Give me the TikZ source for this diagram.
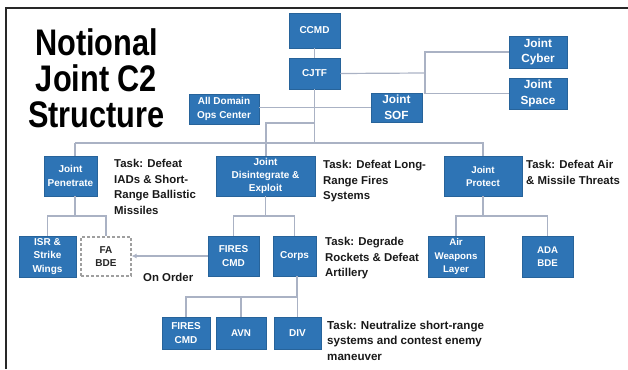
\documentclass[tikz,border=0pt]{standalone}
\usepackage{fontspec}
\setmainfont{Liberation Sans}
\newfontfamily\titlefont[FakeStretch=0.83]{Liberation Sans}
\usetikzlibrary{arrows.meta}
\definecolor{boxblue}{RGB}{46,116,181}
\definecolor{linkgray}{RGB}{170,178,196}
\definecolor{framegray}{RGB}{40,40,40}
\tikzset{
  unit/.style={fill=boxblue, draw=boxblue!85!black, line width=0.5pt, text=white,
    font=\bfseries\fontsize{10}{13.4}\selectfont, align=center, inner sep=0pt},
  bigunit/.style={unit, font=\bfseries\fontsize{11.8}{15.6}\selectfont},
  orderunit/.style={unit, fill=white, draw=gray!75, line width=1.2pt,
    dash pattern=on 3pt off 2pt, text=black!85},
  link/.style={draw=linkgray, line width=1.2pt},
  task/.style={font=\bfseries\fontsize{11.4}{15.6}\selectfont, text=black!90,
    align=left, anchor=north west, inner sep=0pt},
}
\begin{document}
\begin{tikzpicture}[x=1pt,y=-1pt]
\useasboundingbox (0,0) rectangle (628,369);

% page frame
\draw[framegray, line width=2pt] (6,369) -- (6,8.5) -- (628,8.5);

% title
\node[font=\titlefont\bfseries\fontsize{37}{36}\selectfont, align=center,
      anchor=north, inner sep=0pt] (title) at (96.5,28) {Notional\\Joint C2\\Structure};

% command level
\node[unit, minimum width=51pt, minimum height=35pt] (ccmd) at (314.5,30.5) {CCMD};
\node[unit, minimum width=51pt, minimum height=31pt] (cjtf) at (314.5,73.5) {CJTF};
\node[bigunit, minimum width=58pt, minimum height=32pt] (cyber) at (538,52) {Joint\\Cyber};
\node[bigunit, minimum width=58pt, minimum height=31pt] (space) at (538,93.5) {Joint\\Space};
\node[bigunit, minimum width=51pt, minimum height=29pt] (sof) at (396.5,107.5) {Joint\\SOF};
\node[unit, minimum width=70pt, minimum height=30pt] (adoc) at (224,109) {All Domain\\Ops Center};

% component level
\node[unit, minimum width=53pt, minimum height=40pt] (pen) at (70.5,176) {Joint\\Penetrate};
\node[unit, minimum width=99pt, minimum height=40pt] (dis) at (265.5,176) {Joint\\Disintegrate \&\\Exploit};
\node[unit, font=\bfseries\fontsize{9.8}{13}\selectfont, minimum width=78pt, minimum height=40pt] (prot) at (483,176) {Joint\\Protect};

% subordinate units
\node[unit, minimum width=57pt, minimum height=41pt] (isr) at (47.5,256.5) {ISR \&\\Strike\\Wings};
\node[orderunit, minimum width=50pt, minimum height=39pt] (fa) at (106,256.5) {FA\\BDE};
\node[unit, minimum width=51pt, minimum height=40pt] (fires1) at (233.5,256) {FIRES\\CMD};
\node[unit, minimum width=43pt, minimum height=40pt] (corps) at (294.5,256) {Corps};
\node[unit, font=\bfseries\fontsize{9.7}{13.3}\selectfont, minimum width=56pt, minimum height=41pt] (awl) at (456,256.5) {Air\\Weapons\\Layer};
\node[unit, font=\bfseries\fontsize{9.7}{13.3}\selectfont, minimum width=51pt, minimum height=41pt] (ada) at (547.5,256.5) {ADA\\BDE};

\node[unit, minimum width=48pt, minimum height=32pt] (fires2) at (186,333) {FIRES\\CMD};
\node[unit, font=\bfseries\fontsize{9.8}{13.3}\selectfont, minimum width=50pt, minimum height=32pt] (avn) at (241,333) {AVN};
\node[unit, minimum width=47pt, minimum height=32pt] (div) at (297.5,333) {DIV};

% tasks
\node[task] (t1) at (114,159) {Task: Defeat\\IADs \& Short-\\Range Ballistic\\Missiles};
\node[task] (t2) at (323,160) {Task: Defeat Long-\\Range Fires\\Systems};
\node[task] (t3) at (526,160) {Task: Defeat Air\\\& Missile Threats};
\node[task] (t4) at (325,237) {Task: Degrade\\Rockets \& Defeat\\Artillery};
\node[task, font=\bfseries\fontsize{11.6}{15.2}\selectfont] (t5) at (327,321) {Task: Neutralize short-range\\systems and contest enemy\\maneuver};
\node[font=\bfseries\fontsize{11.4}{14}\selectfont, text=black!90, anchor=west, inner sep=0pt] (onorder) at (143,277.5) {On Order};

% junction points
\coordinate (cyberbus) at (425,73);
\coordinate (hub) at (314.5,143);
\coordinate (penjoin) at (75,143);
\coordinate (disjoin) at (266,123);
\coordinate (penfork) at (75,216);
\coordinate (disfork) at (265.5,216);
\coordinate (protfork) at (483,216);
\coordinate (corpsfork) at (297,297);

% connectors
\draw[link] (ccmd) -- (cjtf);
\draw[link] (cjtf.east) -- (cyberbus);
\draw[link] (cyber.west) -| (cyberbus) |- (space.west);
\draw[link] (adoc.east |- sof.west) -- (sof.west);
\draw[link] (cjtf.south) -- (hub);
\draw[link] (penjoin) -- (prot.north |- hub) -- (prot.north);
\draw[link] (penjoin) -- (penjoin |- pen.north);
\draw[link] (hub |- disjoin) -- (disjoin) -- (disjoin |- dis.north);

\draw[link] (penfork |- pen.south) -- (penfork);
\draw[link] (isr.north) |- (fa.north |- penfork) -- (fa.north);
\draw[link] (dis.south) -- (disfork);
\draw[link] (fires1.north) |- (corps.north |- disfork) -- (corps.north);
\draw[link] (prot.south) -- (protfork);
\draw[link] (awl.north) |- (ada.north |- protfork) -- (ada.north);

\draw[link] (corpsfork |- corps.south) -- (corpsfork);
\draw[link] (fires2.north) |- (div.north |- corpsfork) -- (div.north);
\draw[link] (avn.north) -- (avn.north |- corpsfork);

\draw[link, -{Latex[length=5pt,width=5pt]}] (fires1.west) -- (fires1.west -| fa.east);
\end{tikzpicture}
\end{document}
